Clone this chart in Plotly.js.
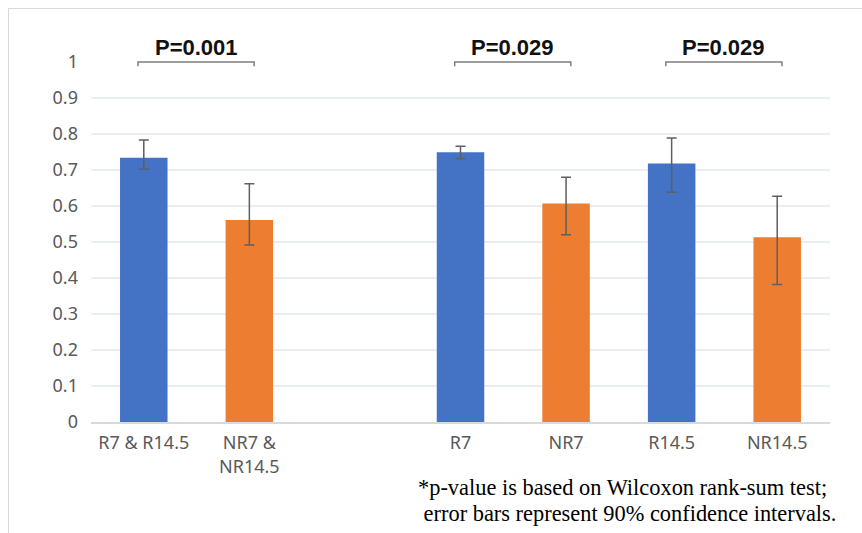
<!DOCTYPE html>
<html>
<head>
<meta charset="utf-8">
<script src="https://cdn.plot.ly/plotly-3.0.1.min.js"></script>
<style>
  html, body { margin: 0; padding: 0; background: #fff; }
  #chart { width: 862px; height: 533px; position: relative; }
  #frame { position: absolute; left: 8px; top: 8px; width: 900px; height: 600px;
           border-left: 1.5px solid #d9d9d9; border-top: 1.5px solid #d9d9d9; pointer-events: none; }
</style>
</head>
<body>
<div id="chart"></div>
<div id="frame"></div>
<script>
// ---- data ----
const categories = ["R7 & R14.5", "NR7 &<br>NR14.5", "", "R7", "NR7", "R14.5", "NR14.5"];
const means      = [0.734, 0.561, null, 0.749, 0.607, 0.718, 0.513];
const upper      = [0.783, 0.662, null, 0.766, 0.680, 0.789, 0.627];
const lower      = [0.702, 0.492, null, 0.732, 0.520, 0.638, 0.382];
const barColors  = ["#4472C4", "#ED7D31", "#4472C4", "#4472C4", "#ED7D31", "#4472C4", "#ED7D31"];
const comparisons = [ {from: 0, to: 1, label: "P=0.001"},
                      {from: 3, to: 4, label: "P=0.029"},
                      {from: 5, to: 6, label: "P=0.029"} ];
const footnote = ["*p-value is based on Wilcoxon rank-sum test;",
                  " error bars represent 90% confidence intervals."];

const xpos = categories.map((c, i) => i);
const errPlus  = means.map((m, i) => m === null ? null : upper[i] - m);
const errMinus = means.map((m, i) => m === null ? null : m - lower[i]);

const sans = "Noto Sans, Liberation Sans, Arial, sans-serif";

const trace = {
  type: "bar",
  x: xpos,
  y: means,
  width: 0.45,
  marker: { color: barColors, line: { width: 0 } },
  error_y: { type: "data", symmetric: false, array: errPlus, arrayminus: errMinus,
             color: "#5f5f5f", thickness: 1.5, width: 5 },
  hoverinfo: "skip"
};

const shapes = [];
// category boundary tick marks
for (let i = 0; i <= categories.length; i++) {
  shapes.push({ type: "line", xref: "x", yref: "y", ysizemode: "pixel", yanchor: 0,
                x0: i - 0.5, x1: i - 0.5, y0: 0, y1: -5,
                line: { color: "#d9d9d9", width: 1.5 } });
}
const annotations = [];
comparisons.forEach(c => {
  const a = c.from - 0.055, b = c.to + 0.045;
  shapes.push({ type: "line", xref: "x", yref: "paper", x0: a - 0.05, x1: b + 0.05, y0: 1, y1: 1,
                line: { color: "#ffffff", width: 3 } });
  shapes.push({ type: "path", xref: "x", yref: "paper",
                path: `M ${a} 0.988 L ${a} 1 L ${b} 1 L ${b} 0.988`,
                line: { color: "#7f7f7f", width: 1.5 } });
  annotations.push({ xref: "x", yref: "paper", x: (a + b) / 2, y: 1, yanchor: "bottom",
                     yshift: 0, showarrow: false, text: "<b>" + c.label + "</b>",
                     font: { family: "Liberation Sans, Arial, sans-serif", size: 22, color: "#111" } });
});
const fnFont = { family: "Liberation Serif, Times New Roman, serif", size: 22.4, color: "#000" };
annotations.push({ xref: "paper", yref: "paper", x: (416 - 91) / 739, y: (422 - 487) / 360,
                   xanchor: "left", yanchor: "middle", showarrow: false, text: footnote[0], font: fnFont });
annotations.push({ xref: "paper", yref: "paper", x: (416 - 91) / 739, y: (422 - 513) / 360,
                   xanchor: "left", yanchor: "middle", showarrow: false, text: "&nbsp;" + footnote[1].trim(), font: fnFont });

const layout = {
  width: 862, height: 533,
  margin: { l: 91, r: 32, t: 62, b: 111 },
  paper_bgcolor: "#ffffff", plot_bgcolor: "#ffffff",
  showlegend: false,
  xaxis: { range: [-0.5, categories.length - 0.5], tickvals: xpos, ticktext: categories,
           ticks: "", showgrid: false, zeroline: false, showline: true, linecolor: "#d9d9d9", linewidth: 1.5,
           ticklabelstandoff: 4,
           tickfont: { family: sans, size: 18, color: "#595959" }, fixedrange: true },
  yaxis: { range: [0, 1], dtick: 0.1, tick0: 0, ticks: "", showline: false, zeroline: false,
           gridcolor: "#e9eef6", gridwidth: 1.5, ticklabelstandoff: 12,
           tickfont: { family: sans, size: 18, color: "#595959" }, fixedrange: true },
  shapes: shapes,
  annotations: annotations
};

Plotly.newPlot("chart", [trace], layout, { displayModeBar: false, staticPlot: true });
</script>
</body>
</html>
